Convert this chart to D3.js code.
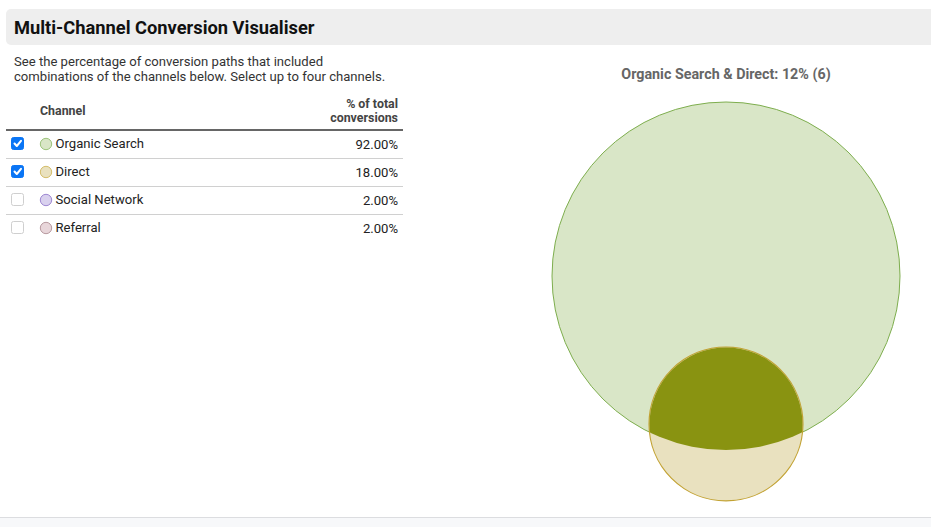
<!DOCTYPE html>
<html>
<head>
<meta charset="utf-8">
<script src="https://cdn.jsdelivr.net/npm/d3@7"></script>
<style>
  html, body { margin: 0; padding: 0; background: #ffffff; }
  svg { display: block; font-family: Roboto, "Noto Sans", Arial, sans-serif; }
</style>
</head>
<body>
<svg id="chart" width="931" height="527"></svg>
<script>
// ---- Data ----
const channels = ["Organic Search", "Direct", "Social Network", "Referral"];
const percents = [92, 18, 2, 2];
const selected = [true, true, false, false];
const overlapPercent = 12;
const overlapCount = 6;
const fills = ["#d9e6c7", "#e9e1bf", "#d9d1ee", "#e8d6da"];
const strokes = ["#9dc47c", "#d4bd6a", "#9e88d2", "#b89aa0"];
const vennStrokes = ["#7eae4e", "#c2a233"];
const overlapColor = "#899311";

const svg = d3.select("#chart");

// ---- Header band ----
svg.append("path")
  .attr("d", "M6,14 a5,5 0 0 1 5,-5 H931 V45 H11 a5,5 0 0 1 -5,-5 Z")
  .attr("fill", "#eeeeee");
svg.append("text").attr("x", 14).attr("y", 33.5)
  .attr("font-size", 18.3).attr("font-weight", "bold").attr("fill", "#111")
  .text("Multi-Channel Conversion Visualiser");

// ---- Description ----
const desc = ["See the percentage of conversion paths that included",
              "combinations of the channels below. Select up to four channels."];
svg.selectAll("text.desc").data(desc).join("text").attr("class", "desc")
  .attr("x", 14).attr("y", (d, i) => 66 + i * 15)
  .attr("font-size", 13.1).attr("fill", "#333").text(d => d);

// ---- Table ----
const tableLeft = 6, tableRight = 403, valueX = 398;
svg.append("text").attr("x", 40).attr("y", 115)
  .attr("font-size", 12.4).attr("font-weight", "bold").attr("fill", "#444").text("Channel");
svg.append("text").attr("x", valueX).attr("y", 108).attr("text-anchor", "end")
  .attr("font-size", 12.4).attr("font-weight", "bold").attr("fill", "#444").text("% of total");
svg.append("text").attr("x", valueX).attr("y", 122).attr("text-anchor", "end")
  .attr("font-size", 12.4).attr("font-weight", "bold").attr("fill", "#444").text("conversions");
svg.append("line").attr("x1", tableLeft).attr("x2", tableRight)
  .attr("y1", 130).attr("y2", 130).attr("stroke", "#666").attr("stroke-width", 2);

const rowY = d3.scaleBand().domain(channels).range([129, 129 + 28 * channels.length]);
const rows = svg.selectAll("g.row").data(channels).join("g").attr("class", "row")
  .attr("transform", d => `translate(0,${rowY(d) + rowY.bandwidth() / 2})`);

rows.filter((d, i) => i < channels.length - 1).append("line")
  .attr("x1", tableLeft).attr("x2", tableRight).attr("y1", 15.5).attr("y2", 15.5)
  .attr("stroke", "#d0d0d0").attr("stroke-width", 1);

rows.append("rect").attr("x", 11.5).attr("y", -5.5).attr("width", 12).attr("height", 12).attr("rx", 2)
  .attr("fill", (d, i) => selected[i] ? "#0a75f5" : "#fff")
  .attr("stroke", (d, i) => selected[i] ? "#0a75f5" : "#cfcfcf");
rows.filter((d, i) => selected[i]).append("path")
  .attr("d", "M14.5,0.5 L16.8,3 L21,-2.2")
  .attr("fill", "none").attr("stroke", "#fff").attr("stroke-width", 2)
  .attr("stroke-linecap", "round").attr("stroke-linejoin", "round");

rows.append("circle").attr("cx", 46).attr("cy", 1).attr("r", 5.7)
  .attr("fill", (d, i) => fills[i]).attr("stroke", (d, i) => strokes[i]);
rows.append("text").attr("x", 55.5).attr("y", 5)
  .attr("font-size", 13.1).attr("fill", "#222").text(d => d);
rows.append("text").attr("x", valueX).attr("y", 6)
  .attr("font-size", 13.1).attr("text-anchor", "end").attr("fill", "#222")
  .text((d, i) => percents[i].toFixed(2) + "%");

// ---- Venn ----
const sel = channels.map((c, i) => ({ name: c, value: percents[i], i })).filter(d => selected[d.i]);
svg.append("text").attr("x", 726).attr("y", 79).attr("text-anchor", "middle")
  .attr("font-size", 14.3).attr("font-weight", "bold").attr("fill", "#666")
  .text(`${sel.map(d => d.name).join(" & ")}: ${overlapPercent}% (${overlapCount})`);

const rScale = d3.scaleSqrt().domain([0, d3.max(percents)]).range([0, 174]);
const r1 = rScale(sel[0].value), r2 = rScale(sel[1].value);

function lens(d, a, b) {
  if (d >= a + b) return 0;
  if (d <= Math.abs(a - b)) return Math.PI * Math.min(a, b) ** 2;
  const t1 = a * a * Math.acos((d * d + a * a - b * b) / (2 * d * a));
  const t2 = b * b * Math.acos((d * d + b * b - a * a) / (2 * d * b));
  const t3 = 0.5 * Math.sqrt((-d + a + b) * (d + a - b) * (d - a + b) * (d + a + b));
  return t1 + t2 - t3;
}
// overlap area in same units as circle areas (area proportional to percent)
const target = Math.PI * rScale(overlapPercent) ** 2;
let lo = Math.abs(r1 - r2), hi = r1 + r2;
for (let k = 0; k < 60; k++) {
  const mid = (lo + hi) / 2;
  if (lens(mid, r1, r2) > target) lo = mid; else hi = mid;
}
const dist = (lo + hi) / 2;

const cx = 726, cy1 = 102 + r1, cy2 = cy1 + dist;
const venn = svg.append("g");
svg.append("defs").append("clipPath").attr("id", "clipBig")
  .append("circle").attr("cx", cx).attr("cy", cy1).attr("r", r1);

venn.append("circle").attr("cx", cx).attr("cy", cy1).attr("r", r1)
  .attr("fill", fills[sel[0].i]).attr("stroke", vennStrokes[0]).attr("stroke-width", 1);
venn.append("circle").attr("cx", cx).attr("cy", cy2).attr("r", r2)
  .attr("fill", fills[sel[1].i]).attr("stroke", vennStrokes[1]).attr("stroke-width", 1.2);
venn.append("circle").attr("cx", cx).attr("cy", cy2).attr("r", r2 - 0.5)
  .attr("clip-path", "url(#clipBig)").attr("fill", overlapColor);

// ---- Footer ----
svg.append("rect").attr("x", 0).attr("y", 517).attr("width", 931).attr("height", 10).attr("fill", "#f7f8fa");
svg.append("line").attr("x1", 0).attr("x2", 931).attr("y1", 517.5).attr("y2", 517.5)
  .attr("stroke", "#dcdde0");
</script>
</body>
</html>
